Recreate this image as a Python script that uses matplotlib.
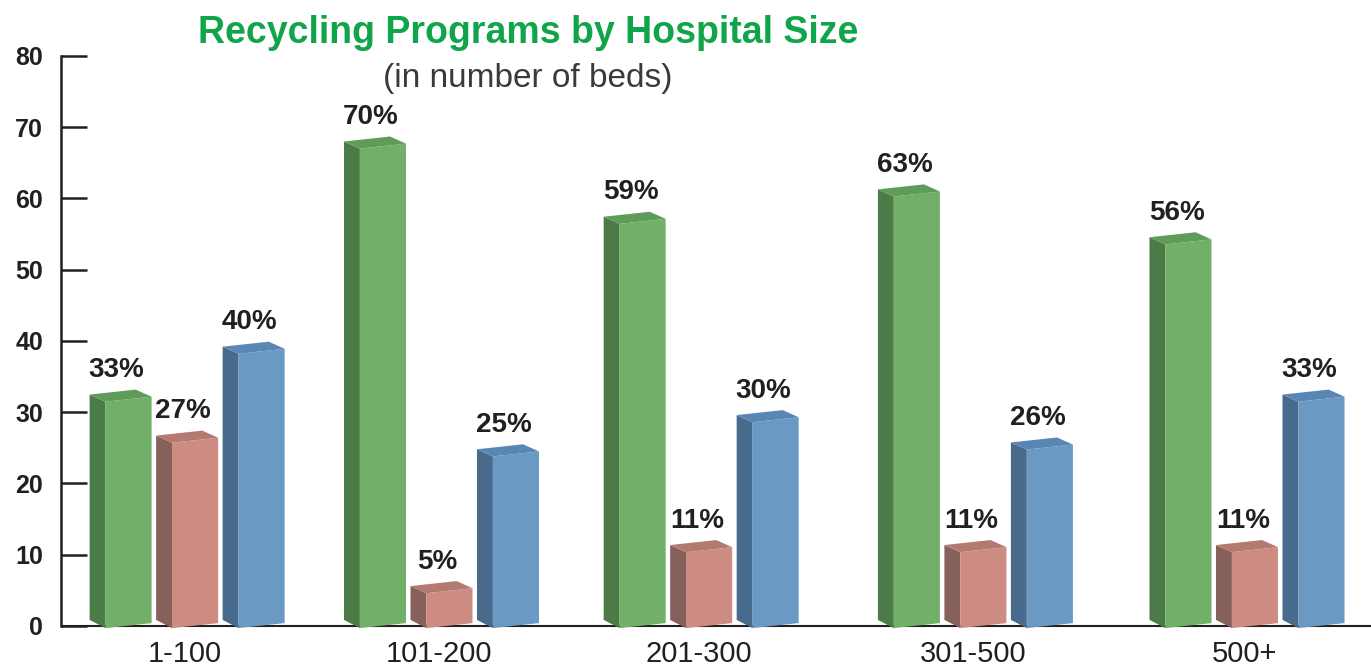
import numpy as np
import matplotlib.pyplot as plt
from matplotlib.patches import Polygon

# Daten
groups = ['1-100', '101-200', '201-300', '301-500', '500+']
green_vals = [33, 70, 59, 63, 56]
salmon_vals = [27, 5, 11, 11, 11]
blue_vals = [40, 25, 30, 26, 33]

# Gruppenpositionen (Layout, leicht ungleichmaessig wie im Original)
group_pos = [0, 0.96, 1.94, 2.975, 4.0]

series = [green_vals, salmon_vals, blue_vals]
# (front, side, top)
colors = [('#72b06a', '#4b7c47', '#5f9b59'),
          ('#cd8b82', '#86605a', '#b47a71'),
          ('#6a99c3', '#486a8c', '#5887b5')]

txt = '#231f20'
fam = ['Liberation Sans Narrow', 'Liberation Sans', 'DejaVu Sans']

fig = plt.figure(figsize=(13.71, 6.70), dpi=100)
ax = fig.add_axes([61 / 1371, 0, 1 - 61 / 1371, 1])
ax.set_xlim(-0.506, 4.438)
ax.set_ylim(-6.18, 87.86)

w = 0.087     # halbe Breite der Vorderseite
dx = 0.06     # Tiefe (Seitenflaeche)
dy = 1.0      # Tiefe nach oben
slant = 0.7   # leichte Perspektive
scale = 0.96  # Balken im Original etwas niedriger als die Skala

for k, vals in enumerate(series):
    front, side, top = colors[k]
    for i, v in enumerate(vals):
        c = group_pos[i] + (k - 1) * 0.251
        h = v * scale
        x0, x1 = c - w, c + w
        yt0, yt1 = h - 0.2, h - 0.2 + slant
        # Seitenflaeche links
        ax.add_patch(Polygon([(x0, -0.3), (x0, yt0), (x0 - dx, yt0 + dy), (x0 - dx, 0.85)],
                             closed=True, fc=side, ec='none', zorder=3))
        # Vorderseite
        ax.add_patch(Polygon([(x0, -0.3), (x1, 0.4), (x1, yt1), (x0, yt0)],
                             closed=True, fc=front, ec='none', zorder=3))
        # Deckflaeche
        ax.add_patch(Polygon([(x0, yt0), (x1, yt1), (x1 - dx, yt1 + dy), (x0 - dx, yt0 + dy)],
                             closed=True, fc=top, ec='none', zorder=3))
        ax.text(c - 0.045, h + 2.4, f'{v}%', ha='center', va='bottom', fontsize=20,
                fontweight='bold', color=txt, family=fam, zorder=4)

# Achsen
for s in ['top', 'right', 'bottom']:
    ax.spines[s].set_visible(False)
ax.spines['left'].set_bounds(0, 80)
ax.spines['left'].set_linewidth(1.8)
ax.spines['left'].set_color(txt)
ax.axhline(0, color=txt, linewidth=1.5, zorder=2)

ax.set_yticks(np.arange(0, 81, 10))
ax.tick_params(axis='y', direction='in', length=19, width=1.8, color=txt, pad=13)
for lab in ax.get_yticklabels():
    lab.set_fontsize(18)
    lab.set_fontweight('bold')
    lab.set_color(txt)
    lab.set_family(fam)
ax.set_xticks([])

for i, g in enumerate(groups):
    ax.text(group_pos[i] - 0.04, -4.0, g, ha='center', va='center', fontsize=21,
            color=txt, family=fam)

# Titel
fig.text(528 / 1371, 1 - 33 / 670, 'Recycling Programs by Hospital Size', ha='center',
         va='center', fontsize=27, fontweight='bold', color='#11a54b', family=fam)
fig.text(528 / 1371, 1 - 79 / 670, '(in number of beds)', ha='center', va='center',
         fontsize=24, color='#3a3a3a', family=fam)

plt.savefig('out.png', dpi=100)
